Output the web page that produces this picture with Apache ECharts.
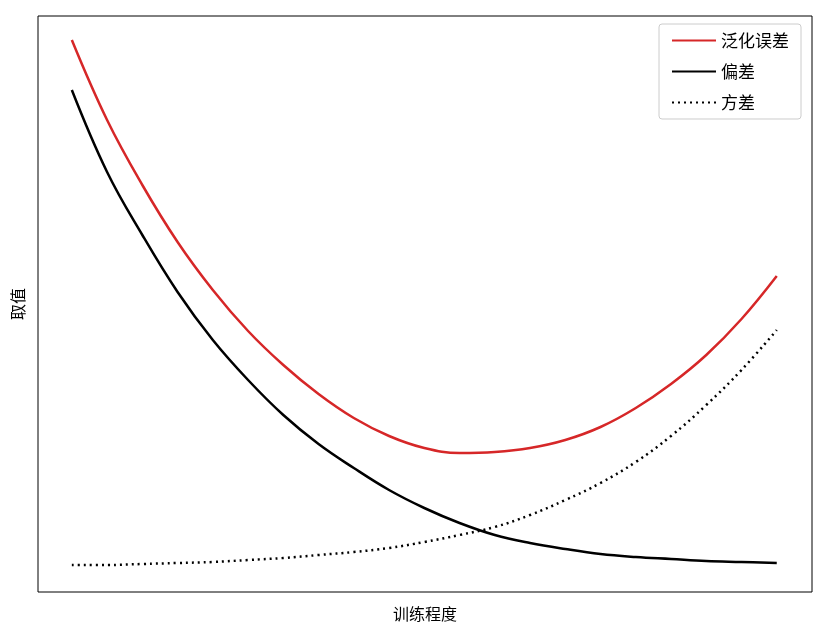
<!DOCTYPE html>
<html>
<head>
<meta charset="utf-8">
<script src="https://cdn.jsdelivr.net/npm/echarts@6/dist/echarts.min.js"></script>
<style>html,body{margin:0;padding:0;background:#fff}#c{width:836px;height:628px}</style>
</head>
<body>
<div id="c"></div>
<script>
// training progress 0..10 in half steps
const steps = [0, 0.5, 1, 1.5, 2, 2.5, 3, 3.5, 4, 4.5, 5, 5.5, 6, 6.5, 7, 7.5, 8, 8.5, 9, 9.5, 10];
const genError = [552, 472, 407, 350, 302, 261, 227, 198, 174, 156, 144, 139, 140, 144, 152, 165, 184, 208, 237, 273, 316];
const bias = [502, 420, 357, 300, 252, 212, 177, 148, 124, 102, 84, 69, 57, 49, 43, 38, 35, 33, 31, 30, 29];
const variance = [27, 27, 28, 29, 30, 32, 34, 37, 40, 44, 50, 57, 65, 77, 92, 109, 130, 156, 187, 222, 262];

const pairs = arr => steps.map((s, i) => [s, arr[i]]);

const chart = echarts.init(document.getElementById('c'));
chart.setOption({
  animation: false,
  textStyle: { fontFamily: 'Noto Sans CJK SC' },
  grid: { left: 38, right: 24, top: 16, bottom: 36, show: true, borderColor: '#000', borderWidth: 1 },
  legend: {
    right: 35, top: 24, orient: 'vertical', itemGap: 14, itemWidth: 44, itemHeight: 14,
    padding: [8, 12], borderColor: '#ccc', borderWidth: 1, borderRadius: 3,
    textStyle: { fontSize: 17, color: '#000' },
    itemStyle: { opacity: 0 },
    data: ['泛化误差', '偏差', '方差']
  },
  xAxis: {
    type: 'value', min: -0.48, max: 10.5,
    name: '训练程度', nameLocation: 'middle', nameGap: 14,
    nameTextStyle: { fontSize: 16, color: '#000' },
    axisLine: { show: false }, axisTick: { show: false }, axisLabel: { show: false }, splitLine: { show: false }
  },
  yAxis: {
    type: 'value', min: 0, max: 576,
    name: '取值', nameLocation: 'middle', nameGap: 12,
    nameTextStyle: { fontSize: 16, color: '#000' },
    axisLine: { show: false }, axisTick: { show: false }, axisLabel: { show: false }, splitLine: { show: false }
  },
  series: [
    { name: '泛化误差', type: 'line', smooth: 0.4, symbol: 'none', data: pairs(genError),
      lineStyle: { color: '#d62728', width: 2.5 }, itemStyle: { color: '#d62728' } },
    { name: '偏差', type: 'line', smooth: 0.4, symbol: 'none', data: pairs(bias),
      lineStyle: { color: '#000', width: 2.5 }, itemStyle: { color: '#000' } },
    { name: '方差', type: 'line', smooth: 0.4, symbol: 'none', data: pairs(variance),
      lineStyle: { color: '#000', width: 2.5, type: [2, 4] }, itemStyle: { color: '#000' } }
  ]
});
</script>
</body>
</html>
